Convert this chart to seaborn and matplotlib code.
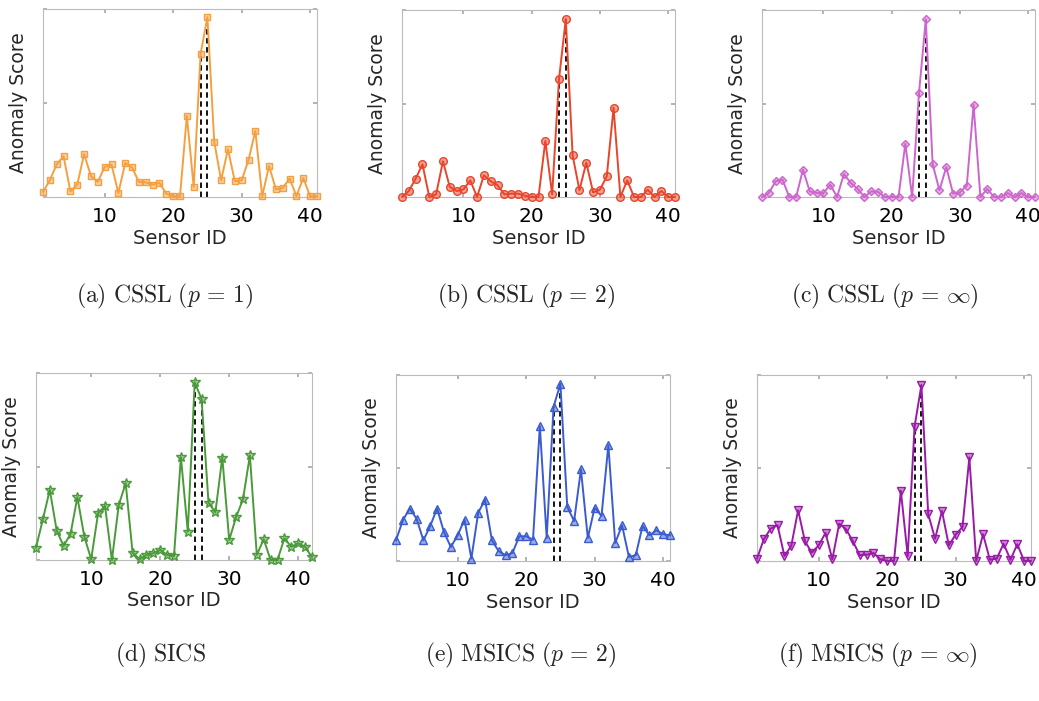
import numpy as np
import pandas as pd
import matplotlib
matplotlib.use("Agg")
import matplotlib.pyplot as plt
import seaborn as sns

# sensor indices (SICS panel is indexed one higher in the source figure)
sensor_ids = list(range(1, 42))
sics_ids = list(range(2, 43))

cssl_p1 = [0.027, 0.089, 0.174, 0.217, 0.030, 0.066, 0.228, 0.112, 0.080, 0.160,
           0.173, 0.021, 0.181, 0.157, 0.080, 0.078, 0.066, 0.075, 0.018, 0.004,
           0.004, 0.432, 0.053, 0.760, 0.957, 0.294, 0.089, 0.254, 0.084, 0.089,
           0.196, 0.352, 0.004, 0.165, 0.041, 0.048, 0.098, 0.005, 0.101, 0.004, 0.004]
cssl_p2 = [0.000, 0.032, 0.098, 0.175, 0.000, 0.014, 0.191, 0.054, 0.032, 0.041,
           0.089, 0.000, 0.116, 0.084, 0.063, 0.014, 0.018, 0.018, 0.007, 0.000,
           0.000, 0.300, 0.014, 0.629, 0.952, 0.223, 0.036, 0.184, 0.025, 0.039,
           0.110, 0.477, 0.000, 0.089, 0.000, 0.000, 0.039, 0.000, 0.032, 0.000, 0.000]
cssl_pinf = [0.000, 0.021, 0.084, 0.093, 0.000, 0.000, 0.146, 0.030, 0.021, 0.021,
             0.066, 0.000, 0.123, 0.075, 0.044, 0.000, 0.030, 0.027, 0.000, 0.000,
             0.000, 0.285, 0.000, 0.555, 0.950, 0.176, 0.036, 0.160, 0.018, 0.025,
             0.060, 0.493, 0.000, 0.043, 0.000, 0.000, 0.021, 0.000, 0.021, 0.000, 0.000]
sics = [0.066, 0.218, 0.375, 0.157, 0.075, 0.139, 0.336, 0.125, 0.004, 0.250,
        0.289, 0.000, 0.295, 0.410, 0.039, 0.004, 0.027, 0.036, 0.054, 0.027,
        0.021, 0.550, 0.152, 0.950, 0.861, 0.307, 0.255, 0.548, 0.107, 0.229,
        0.325, 0.559, 0.027, 0.111, 0.000, 0.000, 0.116, 0.071, 0.089, 0.071, 0.014]
msics_p2 = [0.111, 0.219, 0.282, 0.228, 0.111, 0.189, 0.282, 0.156, 0.075, 0.138,
            0.223, 0.013, 0.259, 0.330, 0.111, 0.052, 0.031, 0.043, 0.133, 0.133,
            0.115, 0.725, 0.124, 0.829, 0.952, 0.291, 0.215, 0.492, 0.124, 0.287,
            0.242, 0.623, 0.097, 0.192, 0.022, 0.031, 0.189, 0.138, 0.165, 0.144, 0.138]
msics_pinf = [0.013, 0.117, 0.174, 0.192, 0.027, 0.081, 0.273, 0.106, 0.045, 0.084,
              0.151, 0.009, 0.201, 0.171, 0.106, 0.031, 0.034, 0.043, 0.009, 0.000,
              0.000, 0.377, 0.027, 0.722, 0.946, 0.251, 0.120, 0.269, 0.084, 0.142,
              0.183, 0.557, 0.000, 0.144, 0.007, 0.013, 0.093, 0.007, 0.090, 0.000, 0.000]

captions = [r"$\mathrm{(a)\ CSSL\ (}p\,=\,1\mathrm{)}$",
            r"$\mathrm{(b)\ CSSL\ (}p\,=\,2\mathrm{)}$",
            r"$\mathrm{(c)\ CSSL\ (}p\,=\,\infty\mathrm{)}$",
            r"$\mathrm{(d)\ SICS}$",
            r"$\mathrm{(e)\ MSICS\ (}p\,=\,2\mathrm{)}$",
            r"$\mathrm{(f)\ MSICS\ (}p\,=\,\infty\mathrm{)}$"]
xticks = [10, 20, 30, 40]

sns.set_theme(style="white")
plt.rcParams["font.family"] = ["DejaVu Sans"]
plt.rcParams["mathtext.fontset"] = "cm"

W, H = 1039, 701
fig = plt.figure(figsize=(W / 100, H / 100), dpi=100)

# panel boxes in pixels: left, right, top, bottom
boxes = [(43, 317, 9, 197), (402, 675, 10, 197), (762, 1035, 10, 197),
         (36, 312, 373, 560), (396, 670, 375, 561), (757, 1031, 375, 561)]
panels = [
    (sensor_ids, cssl_p1, "#F5A040", "s", 5, [24, 25]),
    (sensor_ids, cssl_p2, "#E8452B", "o", 5.5, [24, 25]),
    (sensor_ids, cssl_pinf, "#CC66CC", "D", 4.5, [24, 25]),
    (sics_ids, sics, "#4A9A3A", "*", 7, [25, 26]),
    (sensor_ids, msics_p2, "#3B5BD0", "^", 5.5, [24, 25]),
    (sensor_ids, msics_pinf, "#9A1AA8", "v", 5.5, [24, 25]),
]
caption_pos = [(165, 296), (526, 296), (885, 296), (160, 655), (521, 655), (878, 655)]

for (l, r, t, b), (xs, ys, col, mk, ms, anom), cap, (cx, cy) in zip(boxes, panels, captions, caption_pos):
    ax = fig.add_axes([l / W, 1 - b / H, (r - l) / W, (b - t) / H])
    df = pd.DataFrame({"Sensor ID": xs, "Anomaly Score": ys})
    sns.lineplot(data=df, x="Sensor ID", y="Anomaly Score", ax=ax, color=col,
                 linewidth=1.4, marker=mk, markersize=ms, markeredgecolor=col,
                 markerfacecolor=matplotlib.colors.to_rgba(col, 0.5),
                 markeredgewidth=1.0, clip_on=False, zorder=3)
    for a in anom:
        v = ys[xs.index(a)]
        ax.vlines(a, 0, v, colors="black", linestyles=(0, (3, 2)), linewidth=1.3, zorder=2)
    ax.set_xlim(xs[0], xs[-1])
    ax.set_ylim(0, 1)
    ax.set_xticks(xticks)
    ax.set_yticks([0, 0.5, 1])
    ax.set_yticklabels([])
    ax.tick_params(axis="both", direction="in", length=3, color="#AAAAAA",
                   top=True, right=True, bottom=True, left=True,
                   labelsize=14.5, pad=7, labelcolor="black")
    for sp in ax.spines.values():
        sp.set_color("#BBBBBB")
        sp.set_linewidth(0.8)
    ax.set_xlabel("Sensor ID", fontsize=14, labelpad=2)
    ax.set_ylabel("Anomaly Score", fontsize=13.5, labelpad=4)
    fig.text(cx / W, 1 - cy / H, cap, ha="center", va="center", fontsize=17)

fig.savefig("out.png", dpi=100)
